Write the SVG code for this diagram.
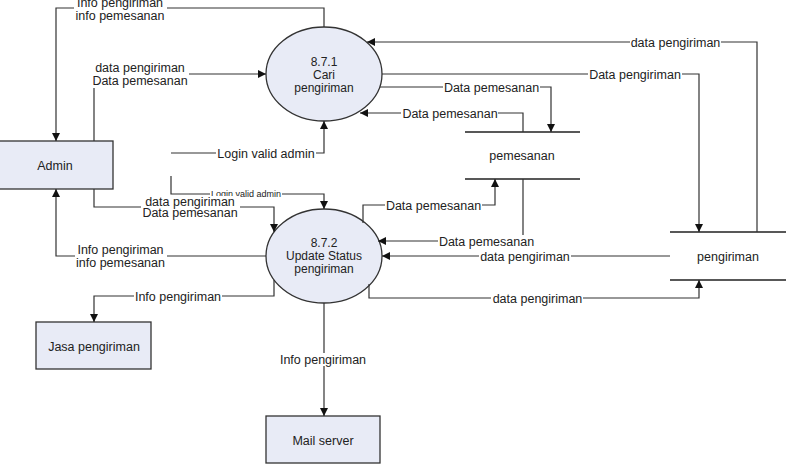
<svg xmlns="http://www.w3.org/2000/svg" width="789" height="466" viewBox="0 0 789 466">
<style>
.t{font-family:"Liberation Sans",Arial,sans-serif;font-size:12.5px;fill:#222;text-anchor:middle}
.s{font-size:9px}
.e{font-size:12px}
.box{fill:#e8ebf6;stroke:#333;stroke-width:1.3}
.ds{stroke:#222;stroke-width:1.3;fill:none}
.c{fill:none;stroke:#333;stroke-width:1.2;marker-end:url(#ah)}
.bg{fill:#fff}
</style>
<defs>
<marker id="ah" viewBox="0 0 10 10" refX="10" refY="5" markerWidth="9" markerHeight="8" orient="auto" markerUnits="userSpaceOnUse"><path d="M0,0 L10,5 L0,10 z" fill="#111"/></marker>
</defs>
<rect width="789" height="466" fill="#fff"/>

<g id="admin"><rect class="box" x="-2" y="141" width="115" height="48"/><text class="t" x="55" y="169.5">Admin</text></g>
<g id="jasa"><rect class="box" x="36" y="322" width="115" height="47"/><text class="t" x="94" y="350.5">Jasa pengiriman</text></g>
<g id="mail"><rect class="box" x="266" y="416" width="114" height="47"/><text class="t" x="323" y="444.5">Mail server</text></g>
<g id="p871"><ellipse class="box" cx="324" cy="74" rx="58" ry="47"/><text class="t e" x="324" y="65.5">8.7.1</text><text class="t e" x="324" y="79">Cari</text><text class="t e" x="324" y="92">pengiriman</text></g>
<g id="p872"><ellipse class="box" cx="324" cy="256" rx="58" ry="47"/><text class="t e" x="324" y="246.5">8.7.2</text><text class="t e" x="324" y="260">Update Status</text><text class="t e" x="324" y="273">pengiriman</text></g>
<g id="ds-pemesanan"><path class="ds" d="M465,132 H580 M465,179 H580"/><text class="t" x="522" y="159.5">pemesanan</text></g>
<g id="ds-pengiriman"><path class="ds" d="M670,232 H786 M670,280 H786"/><text class="t" x="728" y="260.5">pengiriman</text></g>

<g id="connectors">
<path class="c" d="M324,27 V8 H56 V141"/>
<path class="c" d="M94,141 V74 H266"/>
<path class="c" d="M171,153 H324 V121"/>
<path class="c" d="M171,176 V194 H324 V209"/>
<path class="c" d="M94,189 V207 H274 V232"/>
<path class="c" d="M266,256 H56 V189"/>
<path class="c" d="M274,280 V296 H94 V322"/>
<path class="c" d="M324,303 V416"/>
<path class="c" d="M757,232 V42 H367"/>
<path class="c" d="M382,74 H699 V232"/>
<path class="c" d="M380,87 H551 V132"/>
<path class="c" d="M523,132 V113 H360"/>
<path class="c" d="M363,223 V205 H495 V179"/>
<path class="c" d="M523,179 V241 H378"/>
<path class="c" d="M670,256 H382"/>
<path class="c" d="M369,284 V298 H699 V280"/>

<g><rect class="bg" x="74" y="-5" width="93" height="27"/><text class="t" x="120" y="7">Info pengiriman</text><text class="t" x="120" y="19.5">info pemesanan</text></g>
<g><rect class="bg" x="91" y="61" width="98" height="27"/><text class="t" x="140" y="72">data pengiriman</text><text class="t" x="140" y="84.5">Data pemesanan</text></g>
<g><rect class="bg" x="216" y="147" width="100" height="13"/><text class="t" x="266" y="157.5">Login valid admin</text></g>
<g><rect class="bg" x="210" y="189" width="72" height="9"/><text class="t s" x="246" y="196.5">Login valid admin</text></g>
<g><rect class="bg" x="141" y="196" width="99" height="25"/><text class="t" x="190" y="205.5">data pengiriman</text><text class="t" x="190" y="217">Data pemesanan</text></g>
<g><rect class="bg" x="75" y="242" width="92" height="28"/><text class="t" x="120.5" y="253.5">Info pengiriman</text><text class="t" x="120.5" y="267">info pemesanan</text></g>
<g><rect class="bg" x="134" y="290" width="88" height="13"/><text class="t" x="178" y="300.5">Info pengiriman</text></g>
<g><rect class="bg" x="279" y="353" width="88" height="13"/><text class="t" x="323" y="363.5">Info pengiriman</text></g>
<g><rect class="bg" x="630" y="36" width="91" height="13"/><text class="t" x="675.5" y="46.5">data pengiriman</text></g>
<g><rect class="bg" x="588" y="68" width="94" height="13"/><text class="t" x="635" y="78.5">Data pengiriman</text></g>
<g><rect class="bg" x="443" y="81" width="97" height="13"/><text class="t" x="491.5" y="91.5">Data pemesanan</text></g>
<g><rect class="bg" x="401" y="107" width="97" height="13"/><text class="t" x="450" y="117.5">Data pemesanan</text></g>
<g><rect class="bg" x="385" y="199" width="97" height="13"/><text class="t" x="433.5" y="209.5">Data pemesanan</text></g>
<g><rect class="bg" x="438" y="235" width="97" height="13"/><text class="t" x="486.5" y="245.5">Data pemesanan</text></g>
<g><rect class="bg" x="479" y="250" width="92" height="13"/><text class="t" x="525" y="260.5">data pengiriman</text></g>
<g><rect class="bg" x="491" y="292" width="92" height="13"/><text class="t" x="537.5" y="302.5">data pengiriman</text></g>
</g>
</svg>
